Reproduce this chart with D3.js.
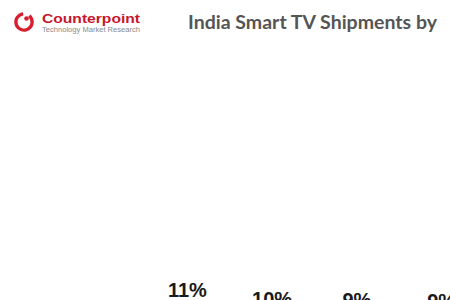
<!DOCTYPE html>
<html>
<head>
<meta charset="utf-8">
<script src="https://cdn.jsdelivr.net/npm/d3@7"></script>
<style>
  body { margin: 0; background: #fff; }
  svg { display: block; }
</style>
</head>
<body>
<div id="chart"></div>
<script>
// brand share, only the tops of the last four bars are in frame
var brands = ["LG", "OnePlus", "TCL", "Sony"];
var shares = [10.5, 9.5, 9.4, 9.3];
var title = "India Smart TV Shipments by";

var width = 450, height = 300;

var svg = d3.select("#chart")
  .append("svg")
  .attr("width", width)
  .attr("height", height)
  .attr("viewBox", "0 0 " + width + " " + height);

svg.append("rect")
  .attr("width", width)
  .attr("height", height)
  .attr("fill", "#fff");

// logo
var logo = svg.append("g").attr("class", "logo");
logo.append("path")
  .attr("d", d3.arc()({innerRadius: 6.5, outerRadius: 9.8, startAngle: 0.7, endAngle: 2 * Math.PI - 0.1}))
  .attr("transform", "translate(24,22)")
  .attr("fill", "#d71f30");
logo.append("circle")
  .attr("cx", 26.5).attr("cy", 18.5)
  .attr("r", 2.3)
  .attr("fill", "#d71f30");
logo.append("text")
  .attr("x", 42).attr("y", 23)
  .attr("font-family", "Arial, 'Liberation Sans', sans-serif")
  .attr("font-weight", "bold")
  .attr("font-size", 13)
  .attr("fill", "#c8162c")
  .attr("textLength", 98)
  .attr("lengthAdjust", "spacingAndGlyphs")
  .text("Counterpoint");
logo.append("text")
  .attr("x", 42).attr("y", 31.5)
  .attr("font-family", "Arial, 'Liberation Sans', sans-serif")
  .attr("font-size", 6.5)
  .attr("fill", "#8a8a8a")
  .attr("textLength", 98)
  .attr("lengthAdjust", "spacingAndGlyphs")
  .text("Technology Market Research");

svg.append("text")
  .attr("x", 188).attr("y", 29)
  .attr("font-family", "Lato, 'Open Sans', sans-serif")
  .attr("font-weight", "bold")
  .attr("font-size", 18)
  .attr("fill", "#555")
  .attr("textLength", 249)
  .attr("lengthAdjust", "spacingAndGlyphs")
  .text(title);

var x = d3.scaleBand()
  .domain(brands)
  .range([145, 484])
  .paddingInner(0.35)
  .paddingOuter(0.175);

var y = d3.scaleLinear()
  .domain([0, 10.5])
  .range([395, 300]);

var g = svg.append("g");

g.selectAll(".bar")
  .data(brands).enter().append("rect")
  .attr("class", "bar")
  .attr("x", function(d){ return x(d); })
  .attr("y", function(d, i){ return y(shares[i]) + 1; })
  .attr("width", x.bandwidth())
  .attr("height", function(d, i){ return y(0) - y(shares[i]); })
  .attr("fill", "#2f5597");

g.selectAll(".lbl")
  .data(brands).enter().append("text")
  .attr("class", "lbl")
  .attr("x", function(d){ return x(d) + x.bandwidth() / 2; })
  .attr("y", function(d, i){ return y(shares[i]) - 3; })
  .attr("text-anchor", "middle")
  .attr("font-family", "Arial, 'Liberation Sans', sans-serif")
  .attr("font-weight", "bold")
  .attr("font-size", 20)
  .attr("fill", "#1a1a1a")
  .text(function(d, i){ return Math.round(shares[i]) + "%"; });
</script>
</body>
</html>
